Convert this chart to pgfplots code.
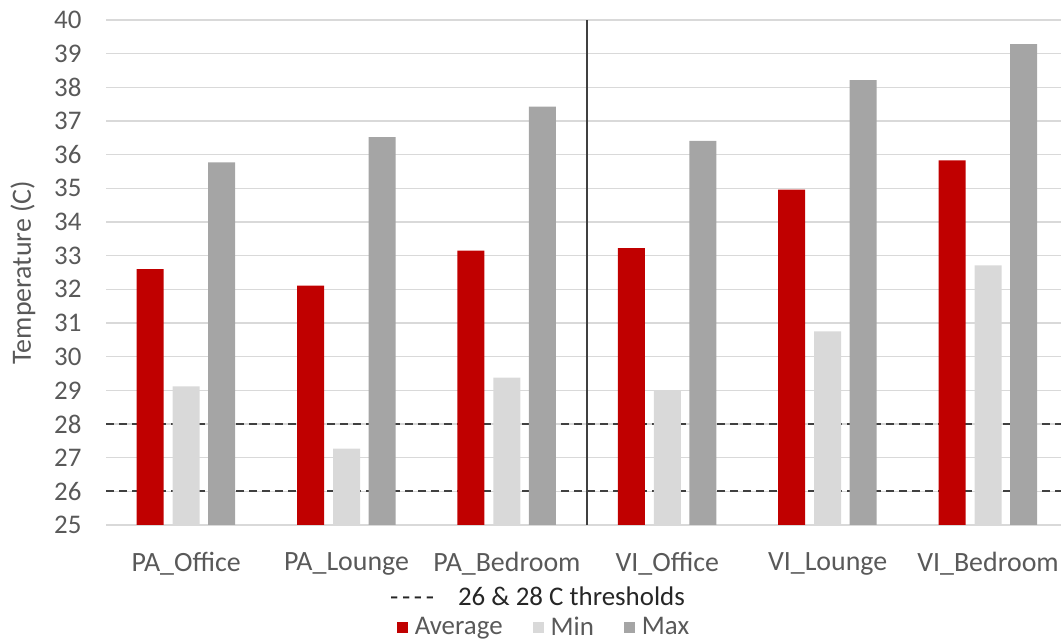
\documentclass[border=0pt]{standalone}
\usepackage{pgfplots}
\pgfplotsset{compat=1.18}
\usepackage{fontspec}
\setmainfont{Carlito}

\definecolor{avgRed}{HTML}{C00000}
\definecolor{minGrey}{HTML}{D9D9D9}
\definecolor{maxGrey}{HTML}{A5A5A5}
\definecolor{gridGrey}{HTML}{D9D9D9}
\definecolor{txtGrey}{HTML}{595959}
\definecolor{darkTxt}{HTML}{262626}
\definecolor{lineGrey}{HTML}{404040}

\begin{document}
\begin{tikzpicture}[x=1bp,y=1bp]
\useasboundingbox (0,0) rectangle (1061,641);
\begin{axis}[
  at={(106bp,116bp)}, anchor=south west,
  scale only axis, width=955bp, height=505bp,
  xmin=-0.5, xmax=5.455, ymin=25, ymax=40,
  ytick={25,26,...,40},
  xtick={0,1,2,3,4,5},
  xticklabels={PA\_Office,PA\_Lounge,PA\_Bedroom,VI\_Office,VI\_Lounge,VI\_Bedroom},
  axis x line*=bottom, axis y line*=left,
  axis line style={draw=none},
  major tick length=0pt,
  ymajorgrids,
  grid style={gridGrey, line width=1.5bp},
  /pgf/number format/assume math mode=true,
  tick label style={font=\fontsize{27}{30}\selectfont, text=txtGrey},
  yticklabel style={xshift=-21bp},
  xticklabel style={font=\fontsize{28}{30}\selectfont, yshift=-24bp},
  ylabel={Temperature (C)},
  ylabel style={at={(axis description cs:-0.0870,0.5)}, anchor=center,
    font=\fontsize{28}{30}\selectfont, text=txtGrey},
  legend columns=3,
  legend style={at={(axis description cs:0.4586,-0.202)}, anchor=center,
    draw=none, fill=none, font=\fontsize{27}{30}\selectfont, text=txtGrey,
    /tikz/every odd column/.append style={column sep=5bp},
    /tikz/every even column/.append style={column sep=28bp},
    inner sep=0pt},
  legend image code/.code={\fill[#1] (0bp,-6bp) rectangle (11bp,5bp);},
  clip mode=individual,
]
% thresholds
\addplot[lineGrey, line width=2bp, dash pattern=on 8bp off 5bp, forget plot]
  coordinates {(-0.5,26) (5.455,26)};
\addplot[lineGrey, line width=2bp, dash pattern=on 8bp off 5bp, forget plot]
  coordinates {(-0.5,28) (5.455,28)};

% Average / Min / Max per room
\addplot[ybar, bar width=27bp, bar shift=-36bp, fill=avgRed, draw=none]
  coordinates {(0,32.60) (1,32.11) (2,33.15) (3,33.22) (4,34.96) (5,35.83)};
\addlegendentry{Average}
\addplot[ybar, bar width=27bp, bar shift=0bp, fill=minGrey, draw=none]
  coordinates {(0,29.12) (1,27.27) (2,29.38) (3,29.00) (4,30.75) (5,32.71)};
\addlegendentry{Min}
\addplot[ybar, bar width=27bp, bar shift=35.5bp, fill=maxGrey, draw=none]
  coordinates {(0,35.77) (1,36.52) (2,37.43) (3,36.41) (4,38.21) (5,39.28)};
\addlegendentry{Max}

% PA / VI separator
\addplot[lineGrey, line width=1.5bp, forget plot]
  coordinates {(2.5,25) (2.5,40)};

\node[font=\fontsize{27}{30}\selectfont, text=darkTxt, anchor=center]
  at (axis description cs:0.4518,-0.1406)
  {\makebox[44bp][s]{-\hfill-\hfill-\hfill-}\hspace{24bp}26 \& 28 C thresholds};
\end{axis}
\end{tikzpicture}
\end{document}
